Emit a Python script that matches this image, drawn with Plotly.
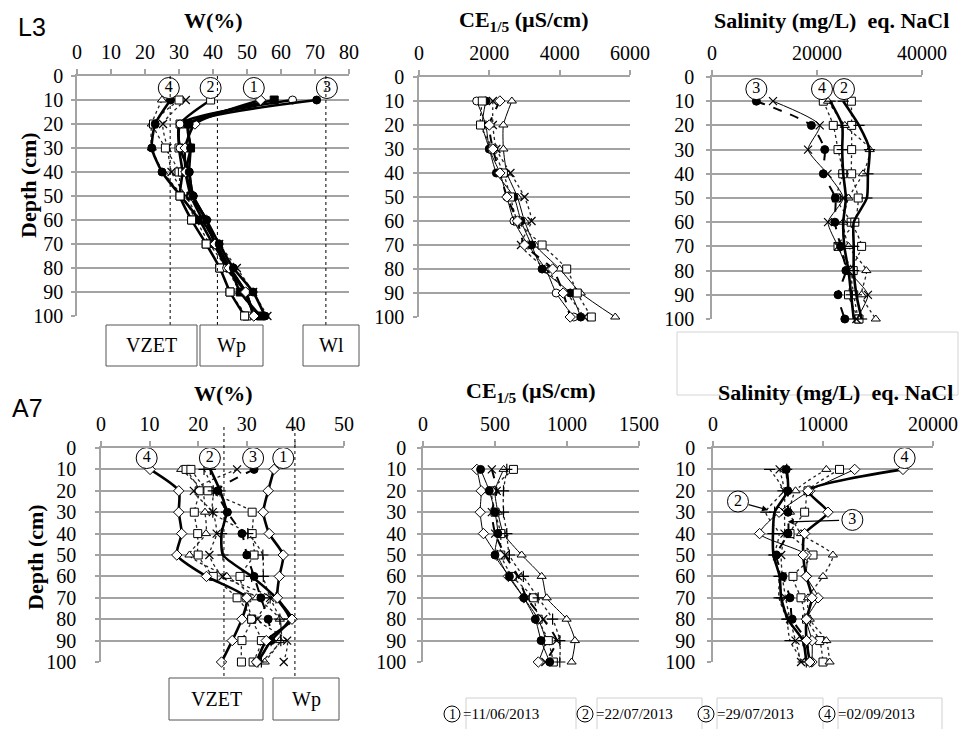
import plotly.graph_objects as go

W, H = 962, 729
def px(x): return x / W
def py(y): return 1 - y / H

DEPTH = [10, 20, 30, 40, 50, 60, 70, 80, 90, 100]

# ---------------- L3 : W (%) ----------------
L3_W_D1 = [54, 34.7, 31.8, 32, 34, 38, 40.6, 44.7, 49.6, 52]
L3_W_D2 = [39.3, 30.3, 30, 31, 30.3, 33.7, 38, 42, 45, 49.3]
L3_W_D3 = [70.5, 33, 33.4, 33, 34.2, 38.1, 41.8, 46, 51.8, 55.3]
L3_W_D4 = [27.5, 23, 22, 25, 30.5, 36, 40, 45, 49.5, 52]
L3_W_R1 = [63.4, 30.3, 30.3, 33, 34, 38.1, 40.6, 44, 49.6, 52]
L3_W_R2 = [58, 32.7, 33.4, 32, 33.5, 37, 41, 45, 48, 54]
L3_W_R3 = [25, 22, 22, 25.3, 31, 35, 39, 44, 48, 53]
L3_W_R4 = [32, 25.3, 26.6, 27.8, 32, 36.2, 41.8, 47, 51.8, 56]
L3_W_R5 = [30, 22.5, 26, 30, 30.3, 33.7, 38, 42, 45, 50]

# ---------------- L3 : CE 1/5 ----------------
L3_CE_A = [1640, 1900, 2000, 2300, 2500, 2700, 3100, 3600, 3900, 4400]
L3_CE_B = [2640, 2400, 2400, 2500, 2800, 3000, 3300, 4000, 4600, 5580]
L3_CE_C = [1900, 1800, 2000, 2200, 2700, 2900, 3200, 3500, 4300, 4600]
L3_CE_D = [1800, 1750, 2100, 2400, 2600, 2800, 3500, 4200, 4500, 4900]
L3_CE_E = [2100, 2100, 2200, 2600, 3000, 3200, 2900, 3600, 4200, 4700]
L3_CE_F = [2300, 2000, 2100, 2300, 2500, 2800, 3000, 3800, 4100, 4300]

# ---------------- L3 : Salinity ----------------
L3_S_D3 = [8450, 18930, 21470, 21200, 23500, 23400, 24500, 25500, 24000, 25300]
L3_S_X = [11620, 20520, 18300, 22000, 25000, 22100, 24000, 26000, 29700, 27500]
L3_S_D4 = [22500, 24800, 24800, 25000, 25500, 25000, 25200, 26000, 26500, 27000]
L3_S_D2 = [25000, 28000, 30000, 29700, 29500, 27000, 27000, 27000, 27500, 28500]
L3_S_Q1 = [21200, 23100, 24000, 24900, 23700, 26500, 28500, 26500, 27000, 27850]
L3_S_Q2 = [26550, 26600, 26600, 26600, 27850, 27200, 24000, 26900, 26000, 28000]
L3_S_T = [22100, 25300, 30040, 28770, 26000, 25000, 26000, 29400, 28500, 31200]

# ---------------- A7 : W (%) ----------------
A7_W_D1 = [35.6, 34.4, 33.4, 34.6, 37.5, 36.7, 36.3, 39.3, 34, 32]
A7_W_D2 = [22.5, 24.5, 25.8, 24.8, 25.1, 31, 36, 38.8, 35, 32.3]
A7_W_D3 = [31.5, 24, 26, 29, 30, 31.5, 32.9, 34.4, 35, 32]
A7_W_D4 = [10.1, 16, 16, 16.6, 15.6, 21.7, 30, 29, 27, 24.8]
A7_W_T = [16.5, 20.9, 21.4, 21.6, 18.2, 25.9, 32, 36.8, 36.8, 33.7]
A7_W_Q1 = [17.5, 20.2, 19.2, 19.9, 20, 23.1, 28, 31, 29, 28.9]
A7_W_Q2 = [18.5, 22, 31.1, 31.1, 31.5, 28.6, 30, 31, 33, 31.3]
A7_W_X = [28, 19.1, 23, 23.8, 22.3, 25, 34.8, 32.2, 38.3, 37.6]
A7_W_O = [21.2, 23.1, 23, 30.2, 33.3, 33.4, 34.8, 36.8, 37, 33]

# ---------------- A7 : CE 1/5 ----------------
A7_CE_A = [374, 404, 397, 420, 512, 593, 700, 800, 850, 801]
A7_CE_B = [560, 500, 520, 559, 685, 824, 859, 997, 1055, 1032]
A7_CE_C = [628, 478, 500, 540, 540, 620, 766, 800, 870, 905]
A7_CE_D = [478, 512, 478, 501, 570, 660, 720, 835, 928, 850]
A7_CE_E = [400, 460, 500, 520, 500, 600, 700, 780, 820, 880]
A7_CE_F = [582, 559, 559, 582, 600, 697, 800, 900, 950, 950]

# ---------------- A7 : Salinity ----------------
A7_S_D4 = [17270, 8640, 10450, 8330, 8200, 8480, 9000, 8500, 8500, 8800]
A7_S_D2 = [6700, 6800, 5600, 5450, 5500, 6060, 6200, 6800, 8180, 8480]
A7_S_D3 = [6660, 6800, 6820, 6820, 5760, 6360, 7000, 7200, 8480, 8800]
A7_S_DM = [12880, 8800, 6000, 4240, 8480, 8500, 9550, 8500, 9000, 9000]
A7_S_Q = [11500, 8640, 8330, 7000, 9090, 7270, 8000, 8500, 9700, 10000]
A7_S_T = [10300, 7500, 7000, 8000, 10900, 10000, 8640, 8800, 10300, 10600]
A7_S_DASH = [5150, 6360, 4800, 6000, 5600, 6000, 6000, 6700, 7000, 8200]
A7_S_X = [6060, 6500, 6500, 6500, 6200, 6300, 6600, 7000, 7500, 8000]

# reference moisture limits
L3_VZET, L3_WP, L3_WL = 27.4, 41.3, 73.2
A7_VZET, A7_WP = 25.3, 39.9

# circled date labels: (panel, label, x, depth)
LABELS = [
    (1, "4", 27, 5), (1, "2", 39.3, 5), (1, "1", 52, 5), (1, "3", 73.5, 5),
    (3, "3", 8450, 5), (3, "4", 20950, 5), (3, "2", 25140, 5),
    (4, "4", 9.4, 4.7), (4, "2", 22.4, 4.7), (4, "3", 31.3, 4.7), (4, "1", 37.5, 4.7),
    (6, "4", 17420, 4.7), (6, "2", 2270, 25), (6, "3", 12670, 33.6),
]
LEGEND_DATES = ["11/06/2013", "22/07/2013", "29/07/2013", "02/09/2013"]

STY = {
    "thick": dict(width=2.6, dash="solid", color="black"),
    "dash": dict(width=2.0, dash="dash", color="black"),
    "dot": dict(width=1.3, dash="dot", color="#222"),
    "thin": dict(width=1.0, dash="solid", color="black"),
}

# "-b" = black-filled marker; line glyphs; others white-filled
PANELS = {
    1: [(L3_W_R4, "x-thin", "dot"), (L3_W_R3, "triangle-up", "dot"),
        (L3_W_R5, "square", "dot"), (L3_W_D4, "circle-b", "thick"),
        (L3_W_D2, "square", "thick"), (L3_W_R1, "circle", "thick"),
        (L3_W_R2, "square-b", "thick"), (L3_W_D1, "diamond", "thick"),
        (L3_W_D3, "circle-b", "thick")],
    2: [(L3_CE_A, "circle", "thin"), (L3_CE_B, "triangle-up", "thin"),
        (L3_CE_C, "circle-b", "thin"), (L3_CE_D, "square", "dot"),
        (L3_CE_E, "x-thin", "dot"), (L3_CE_F, "diamond", "dash")],
    3: [(L3_S_Q1, "square", "dot"), (L3_S_Q2, "square", "dot"),
        (L3_S_T, "triangle-up", "dot"), (L3_S_X, "x-thin", "thin"),
        (L3_S_D4, "line-ew", "thick"), (L3_S_D2, "line-ew", "thick"),
        (L3_S_D3, "circle-b", "dash")],
    4: [(A7_W_T, "triangle-up", "dot"), (A7_W_Q1, "square", "dot"),
        (A7_W_Q2, "square", "dot"), (A7_W_X, "x-thin", "dot"),
        (A7_W_O, "cross-thin", "dot"),
        (A7_W_D4, "diamond", "thick"), (A7_W_D2, "cross-thin", "thick"),
        (A7_W_D3, "circle-b", "dash"), (A7_W_D1, "diamond", "thick")],
    5: [(A7_CE_A, "diamond", "thin"), (A7_CE_B, "triangle-up", "thin"),
        (A7_CE_C, "square", "dot"), (A7_CE_D, "x-thin", "dash"),
        (A7_CE_E, "circle-b", "thin"), (A7_CE_F, "cross-thin", "dot")],
    6: [(A7_S_Q, "square", "dot"), (A7_S_T, "triangle-up", "dot"),
        (A7_S_X, "x-thin", "dot"), (A7_S_DASH, "line-ew", "dot"),
        (A7_S_DM, "diamond", "thin"), (A7_S_D2, "cross-thin", "thick"),
        (A7_S_D3, "circle-b", "dash"), (A7_S_D4, "diamond", "thick")],
}

# panel geometry in pixels: x0, x1, y0, y1 ; x range, dtick, y-label standoff
GEOM = {
    1: (77, 349, 76, 316, [0, 80], 10, 8),
    2: (419, 630, 77, 317, [0, 6000], 2000, 9),
    3: (712, 922, 77, 319, [0, 40000], 20000, 12),
    4: (101, 344, 448, 662, [0, 50], 10, 19),
    5: (423, 639, 448, 662, [0, 1500], 500, 11),
    6: (713, 933, 448, 662, [0, 20000], 10000, 12),
}

SERIF = "Liberation Serif, Times New Roman, serif"
GRID = "#a3a3a3"

fig = go.Figure()

def ax_names(i):
    s = "" if i == 1 else str(i)
    return "x" + s, "y" + s, "xaxis" + s, "yaxis" + s

def marker_for(sym):
    if sym in ("x-thin", "cross-thin", "line-ew"):
        return dict(symbol=sym + "-open", size=8, color="black", line=dict(color="black", width=1.2))
    if sym.endswith("-b"):
        return dict(symbol=sym[:-2], size=8, color="black", line=dict(color="black", width=1))
    return dict(symbol=sym, size=8, color="white", line=dict(color="black", width=1))

layout_axes = {}
for i, (x0, x1, y0, y1, rng, dt, ystand) in GEOM.items():
    xn, yn, xk, yk = ax_names(i)
    layout_axes[xk] = dict(domain=[px(x0), px(x1)], range=rng, dtick=dt, side="top",
                           anchor=yn, showgrid=False, zeroline=False, showline=True,
                           linecolor=GRID, linewidth=1.5, ticks="outside", ticklen=5,
                           tickcolor=GRID, tickwidth=1.5, ticklabelstandoff=2,
                           tickformat="d", automargin=False,
                           tickfont=dict(family=SERIF, size=20, color="black"))
    layout_axes[yk] = dict(domain=[py(y1), py(y0)], range=[100, 0], dtick=10,
                           anchor=xn, showgrid=True, gridcolor=GRID, gridwidth=1.5,
                           zeroline=False, showline=True, linecolor=GRID, linewidth=1.5,
                           ticks="outside", ticklen=4, tickcolor=GRID, tickwidth=1.5,
                           ticklabelstandoff=ystand - 4, automargin=False,
                           tickfont=dict(family=SERIF, size=20, color="black"))
    for vals, sym, st in PANELS[i]:
        s = STY[st]
        fig.add_trace(go.Scatter(
            x=vals, y=DEPTH, xaxis=xn, yaxis=yn, mode="lines+markers",
            line=dict(color=s["color"], width=s["width"], dash=s["dash"],
                      shape="spline", smoothing=0.6),
            marker=marker_for(sym),
            showlegend=False, cliponaxis=False, hoverinfo="skip"))

# circled labels
for i, lab, xv, yv in LABELS:
    xn, yn, _, _ = ax_names(i)
    fig.add_trace(go.Scatter(
        x=[xv], y=[yv], xaxis=xn, yaxis=yn, mode="markers+text", text=[lab],
        textposition="middle center",
        textfont=dict(family=SERIF, size=16, color="black"),
        marker=dict(symbol="circle", size=21, color="white",
                    line=dict(color="black", width=1)),
        showlegend=False, cliponaxis=False, hoverinfo="skip"))

annotations = []
shapes = []

# arrows in A7 salinity
annotations.append(dict(x=5000, y=29, xref="x6", yref="y6", ax=3100, ay=26.3,
                        axref="x6", ayref="y6", showarrow=True, arrowhead=2,
                        arrowsize=1, arrowwidth=1.2, arrowcolor="black", text=""))
annotations.append(dict(x=6800, y=34.5, xref="x6", yref="y6", ax=11600, ay=33.8,
                        axref="x6", ayref="y6", showarrow=True, arrowhead=2,
                        arrowsize=1, arrowwidth=1.2, arrowcolor="black", text=""))

# vertical reference dashed lines
for v in (L3_VZET, L3_WP, L3_WL):
    shapes.append(dict(type="line", xref="x", yref="paper", x0=v, x1=v,
                       y0=py(76), y1=py(325), line=dict(color="black", width=1, dash="dot")))
for v in (A7_VZET, A7_WP):
    shapes.append(dict(type="line", xref="x4", yref="paper", x0=v, x1=v,
                       y0=py(427), y1=py(678), line=dict(color="black", width=1, dash="dot")))

def txt(x, y, t, size=20, bold=True, family=SERIF, angle=0, xanchor="center"):
    annotations.append(dict(x=px(x), y=py(y), xref="paper", yref="paper",
                            xanchor=xanchor, yanchor="middle",
                            text=("<b>%s</b>" % t) if bold else t, showarrow=False,
                            textangle=angle, font=dict(family=family, size=size, color="black")))

def box(x0, x1, y0, y1, text=None, color="#555", size=20):
    shapes.append(dict(type="rect", xref="paper", yref="paper", x0=px(x0), x1=px(x1),
                       y0=py(y1), y1=py(y0), line=dict(color=color, width=1)))
    if text:
        txt((x0 + x1) / 2, (y0 + y1) / 2, text, size=size, bold=False)

box(106, 197, 325, 366, "VZET")
box(200, 263, 325, 366, "Wp")
box(303, 359, 325, 366, "Wl")
box(169, 263, 678, 720, "VZET")
box(273, 339, 678, 720, "Wp")
box(677, 958, 332, 395, None, color="#d4d4d4")

# legend at bottom
LEG_BOX = [(466, 576), (597, 702), (717, 823), (838, 942)]
LEG_CIRC = [452, 585, 706, 827]
for k, date in enumerate(LEGEND_DATES):
    bx0, bx1 = LEG_BOX[k]
    shapes.append(dict(type="rect", xref="paper", yref="paper", x0=px(bx0), x1=px(bx1),
                       y0=py(735), y1=py(698), line=dict(color="#d0d0d0", width=1)))
    cx = LEG_CIRC[k]
    shapes.append(dict(type="circle", xref="paper", yref="paper", x0=px(cx - 8),
                       x1=px(cx + 8), y0=py(722), y1=py(706),
                       line=dict(color="black", width=1), fillcolor="white"))
    txt(cx, 714, str(k + 1), size=14, bold=False)
    txt(cx + 9, 714, "=" + date, size=15, bold=False, xanchor="left")

# titles
SAL_TITLE = "Salinity (mg/L)&nbsp;&nbsp;eq. NaCl"
CE_TITLE = "CE<sub>1/5</sub> (µS/cm)"
txt(213, 20, "W(%)", size=22)
txt(524, 21, CE_TITLE, size=22)
txt(831, 21, SAL_TITLE, size=22)
txt(223, 393, "W(%)", size=22)
txt(531, 392, CE_TITLE, size=22)
txt(835, 392, SAL_TITLE, size=22)
txt(28, 185, "Depth (cm)", size=22, angle=-90)
txt(35, 557, "Depth (cm)", size=22, angle=-90)
txt(32, 27, "L3", size=25, bold=False, family="Liberation Sans, Arial, sans-serif")
txt(27, 408, "A7", size=25, bold=False, family="Liberation Sans, Arial, sans-serif")

fig.update_layout(width=W, height=H,
                  margin=dict(l=0, r=0, t=0, b=0, autoexpand=False),
                  paper_bgcolor="white", plot_bgcolor="white",
                  showlegend=False, annotations=annotations, shapes=shapes,
                  **layout_axes)

fig.write_html("out.html")
